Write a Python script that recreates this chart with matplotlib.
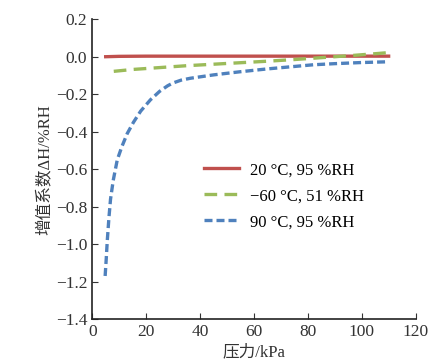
import matplotlib.pyplot as plt

plt.rcParams['font.family'] = ['Liberation Serif', 'Noto Sans CJK SC']

# pressure (kPa) and deviation values
p_red = [5, 10, 20, 30, 40, 50, 60, 70, 80, 90, 100, 110]
dh_red = [0.0, 0.002, 0.003, 0.003, 0.003, 0.003, 0.003, 0.003, 0.003, 0.003, 0.003, 0.003]

p_green = [8, 15, 25, 35, 45, 55, 65, 75, 85, 95, 105, 110]
dh_green = [-0.078, -0.068, -0.058, -0.048, -0.040, -0.032, -0.024, -0.015, -0.005, 0.005, 0.016, 0.022]

p_blue = [4.8, 5.2, 5.6, 6.2, 6.8, 7.8, 9.3, 11, 13, 15.3, 18, 21.6, 25, 28, 30, 33, 36.4,
          45, 55, 65, 75, 82, 90, 100, 110]
dh_blue = [-1.17, -1.08, -0.98, -0.86, -0.76, -0.66, -0.55, -0.48, -0.41, -0.35, -0.29, -0.23,
           -0.185, -0.155, -0.14, -0.125, -0.115, -0.097, -0.08, -0.065, -0.052, -0.043,
           -0.037, -0.031, -0.027]

fig = plt.figure(figsize=(4.37, 3.63), dpi=100)
ax = fig.add_axes([0.211, 0.121, 0.74, 0.826])

ax.plot(p_red, dh_red, color='#c0504d', linewidth=2.4, label='20 °C, 95 %RH')
ax.plot(p_green, dh_green, color='#9bbb59', linewidth=2.4, dashes=(3.8, 2.2), label='\u221260 °C, 51 %RH')
ax.plot(p_blue, dh_blue, color='#4f81bd', linewidth=2.4, dashes=(2.4, 1.2), label='90 °C, 95 %RH')

ax.set_xlim(0, 120)
ax.set_ylim(-1.4, 0.2)
ax.set_xticks(range(0, 121, 20))
ax.set_yticks([0.2, 0.0, -0.2, -0.4, -0.6, -0.8, -1.0, -1.2, -1.4])
ax.set_yticklabels(['0.2', '0.0', '\u22120.2', '\u22120.4', '\u22120.6', '\u22120.8',
                    '\u22121.0', '\u22121.2', '\u22121.4'])
ax.tick_params(direction='in', labelsize=12.5, colors='#333333', length=4)
ax.spines['top'].set_visible(False)
ax.spines['right'].set_visible(False)
for s in ['left', 'bottom']:
    ax.spines[s].set_linewidth(1.2)
    ax.spines[s].set_color('#222222')

ax.set_xlabel('压力/kPa', fontsize=12, color='#333333', labelpad=3)
ax.set_ylabel('增值系数\u0394H/%RH', fontsize=12, color='#333333', labelpad=2)

ax.legend(loc='center left', bbox_to_anchor=(0.3, 0.41), frameon=False, fontsize=12,
          handlelength=2.1, handletextpad=0.65, labelspacing=0.6)

fig.savefig('out.png', dpi=100)
